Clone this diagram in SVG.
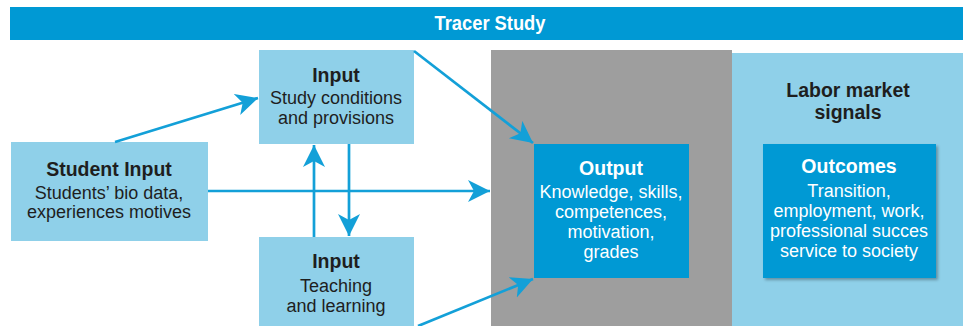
<svg xmlns="http://www.w3.org/2000/svg" width="963" height="326" viewBox="0 0 963 326">
  <style>
    .light { fill: #8fd0e9; }
    .dark { fill: #0099d4; }
    .title { font-family: "Liberation Sans", Arial, sans-serif; font-weight: bold; font-size: 19.5px; text-anchor: middle; fill: #1e1e1e; }
    .body { font-family: "Liberation Sans", Arial, sans-serif; font-size: 18px; text-anchor: middle; fill: #1e1e1e; }
    .wt { fill: #ffffff; }
    .conn { stroke: #13a0d8; stroke-width: 2.7; fill: none; marker-end: url(#head); }
  </style>
  <defs>
    <marker id="head" markerUnits="userSpaceOnUse" markerWidth="24" markerHeight="24" refX="22" refY="11" orient="auto">
      <path d="M0,0 L22,11 L0,22 L6,11 z" fill="#13a0d8"/>
    </marker>
    <filter id="shadow" x="-10%" y="-10%" width="125%" height="125%">
      <feDropShadow dx="2" dy="2" stdDeviation="1.5" flood-color="#000" flood-opacity="0.3"/>
    </filter>
  </defs>

  <rect width="963" height="326" fill="#ffffff"/>

  <!-- header band -->
  <g id="header">
    <rect x="10" y="7" width="953" height="33" class="dark"/>
    <text x="490" y="30" class="title wt" font-size="19" textLength="111" lengthAdjust="spacingAndGlyphs">Tracer Study</text>
  </g>

  <!-- output zone and labour market panel -->
  <g id="zone-output">
    <rect x="491" y="50" width="241" height="276" fill="#9e9e9e"/>
  </g>
  <g id="zone-labor">
    <rect x="732" y="53" width="231" height="273" class="light"/>
    <text x="848" y="97" class="title">Labor market</text>
    <text x="848" y="119" class="title">signals</text>
  </g>

  <g id="student-input">
    <rect x="11" y="142" width="197" height="99" class="light"/>
    <text x="109" y="176" class="title">Student Input</text>
    <text x="109" y="199" class="body">Students’ bio data,</text>
    <text x="109" y="218" class="body">experiences motives</text>
  </g>

  <g id="input-conditions">
    <rect x="259" y="50" width="155" height="94" class="light"/>
    <text x="336" y="82" class="title">Input</text>
    <text x="336" y="104" class="body">Study conditions</text>
    <text x="336" y="124" class="body">and provisions</text>
  </g>

  <g id="input-teaching">
    <rect x="259" y="237" width="155" height="95" class="light"/>
    <text x="336" y="268" class="title">Input</text>
    <text x="336" y="292" class="body">Teaching</text>
    <text x="336" y="312" class="body">and learning</text>
  </g>

  <g id="output">
    <rect x="534" y="144" width="155" height="134" class="dark"/>
    <text x="611" y="175" class="title wt">Output</text>
    <text x="611" y="198" class="body wt">Knowledge, skills,</text>
    <text x="611" y="218" class="body wt">competences,</text>
    <text x="611" y="238" class="body wt">motivation,</text>
    <text x="611" y="258" class="body wt">grades</text>
  </g>

  <g id="outcomes">
    <rect x="763" y="144" width="173" height="134" class="dark" filter="url(#shadow)"/>
    <text x="849" y="173" class="title wt">Outcomes</text>
    <text x="849" y="197" class="body wt">Transition,</text>
    <text x="849" y="217" class="body wt">employment, work,</text>
    <text x="849" y="237" class="body wt">professional succes</text>
    <text x="849" y="257" class="body wt">service to society</text>
  </g>

  <g id="connectors">
    <path class="conn" d="M115,142 L258,98"/>
    <path class="conn" d="M208,191 L490,191"/>
    <path class="conn" d="M314,237 L314,145"/>
    <path class="conn" d="M349,144 L349,236"/>
    <path class="conn" d="M414,51 L533,143"/>
    <path class="conn" d="M418,326 L533,279"/>
  </g>
</svg>
